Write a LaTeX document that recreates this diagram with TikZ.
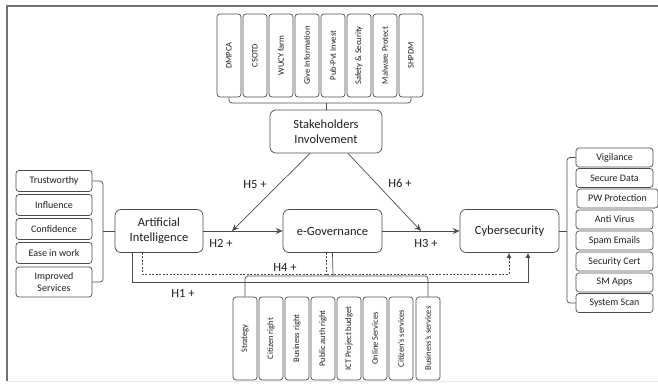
\documentclass[tikz,border=0pt]{standalone}
\usepackage{fontspec}
\setmainfont{Carlito}
\usetikzlibrary{arrows.meta}

\begin{document}
\begin{tikzpicture}[x=1pt, y=-1pt, line width=0.7pt, color=black!70, text=black!88,
	mainbox/.style={draw, rounded corners=6pt, minimum height=43pt, align=center, inner sep=0pt, font=\fontsize{12.5}{15}\selectfont},
	itembox/.style={draw, rounded corners=3pt, minimum height=19pt, minimum width=77pt, inner sep=0pt, align=center, font=\fontsize{10}{11}\selectfont},
	vbox/.style={draw, rounded corners=3pt, rotate=90, minimum width=83pt, minimum height=24pt, inner sep=0pt, font=\fontsize{8.5}{9}\selectfont},
	hyp/.style={font=\fontsize{12.5}{14}\selectfont},
	tip/.style={-{Stealth[length=7pt, width=6pt, inset=2.5pt]}},
	uptip/.style={-{Latex[length=5pt, width=5pt]}}]
	\useasboundingbox (0,0) rectangle (658,385);
	\draw[black!55, line width=1.6pt] (658,6) -- (7,6) -- (7,381);
	\draw[black!8] (7,381) -- (658,381);
	%%%%%%%%%%%%%
	\node[mainbox, minimum width=112pt] (sh) at (326,131.5) {Stakeholders\\Involvement};
	\node[mainbox, minimum width=88pt] (ai) at (159,231) {Artificial\\Intelligence};
	\node[mainbox, minimum width=99pt] (eg) at (332.5,231) {e-Governance};
	\node[mainbox, minimum width=99pt] (cyb) at (509.5,231) {Cybersecurity};
	%%%%%%%%%%%%%
	\node[vbox] (dmpca) at (229,55.5) {DMPCA};
	\node[vbox] (csotd) at (255,55.5) {CSOTD};
	\node[vbox] (wucy) at (281,55.5) {WUCY farm};
	\node[vbox] (give) at (307,55.5) {Give Information};
	\node[vbox] (pubpvt) at (333,55.5) {Pub-Pvt Invest};
	\node[vbox] (safety) at (359,55.5) {Safety \& Security};
	\node[vbox] (malware) at (385,55.5) {Malware Protect};
	\node[vbox] (shpdm) at (411,55.5) {SHPDM};
	%%%%%%%%%%%%%
	\node[vbox] (strat) at (245,338.5) {Strategy};
	\node[vbox] (citr) at (271,338.5) {Citizen right};
	\node[vbox] (busr) at (297,338.5) {Business right};
	\node[vbox] (pubr) at (323,338.5) {Public auth right};
	\node[vbox] (ict) at (349,338.5) {ICT Project budget};
	\node[vbox] (online) at (375,338.5) {Online Services};
	\node[vbox] (citsv) at (401,338.5) {Citizen's services};
	\node[vbox] (bizs) at (428,338.5) {Business's services};
	%%%%%%%%%%%%%
	\node[itembox, minimum height=21pt, minimum width=76pt] (trust) at (54,181) {Trustworthy};
	\node[itembox, minimum height=21pt, minimum width=76pt] (infl) at (54,205) {Influence};
	\node[itembox, minimum height=21pt, minimum width=76pt] (conf) at (54,229) {Confidence};
	\node[itembox, minimum height=21pt, minimum width=76pt] (ease) at (54,253) {Ease in work};
	\node[itembox, minimum height=30pt, minimum width=76pt, font=\fontsize{10}{12}\selectfont] (impr) at (54,282) {Improved\\Services};
	%%%%%%%%%%%%%
	\node[itembox] (vig) at (614.5,157.5) {Vigilance};
	\node[itembox] (sec) at (614.5,178) {Secure Data};
	\node[itembox, minimum width=81pt] (pw) at (617.5,198.5) {PW Protection};
	\node[itembox] (av) at (614.5,219.5) {Anti Virus};
	\node[itembox] (spam) at (614.5,240.5) {Spam Emails};
	\node[itembox] (cert) at (614.5,261.5) {Security Cert};
	\node[itembox] (sm) at (614.5,282.5) {SM Apps};
	\node[itembox] (scan) at (614.5,303) {System Scan};
	%%%%%%%%%%%%%
	\coordinate (lb) at (103,231);
	\coordinate (rb) at (567,231);
	\coordinate (tb) at (326,103);
	\coordinate (bb) at (333,276);
	\draw[rounded corners=3pt] (trust.east) -| (lb) |- (impr.east);
	\draw (lb) -- (ai.west);
	\draw[rounded corners=3pt] (vig.west) -| (rb) |- (scan.west);
	\draw (cyb.east) -- (rb);
	\draw[rounded corners=3pt] (dmpca.west) |- (tb) -| (shpdm.west);
	\draw (tb) -- (sh.north);
	\draw[rounded corners=3pt] (strat.east) |- (bb) -| (bizs.east);
	\draw (bb) -- (eg.south);
	%%%%%%%%%%%%%
	\coordinate (h5end) at (232,231);
	\coordinate (h6end) at (421,231);
	\draw[tip] (ai) -- (eg);
	\draw[tip] (eg) -- (cyb);
	\draw[tip] ([xshift=-16pt]sh.south) -- (h5end);
	\draw[tip] ([xshift=22pt]sh.south) -- (h6end);
	\coordinate (h1l) at (132,282);
	\coordinate (h1r) at (528,282);
	\draw[uptip] (ai.south -| h1l) -- (h1l) -- (h1r) -- (cyb.south -| h1r);
	\coordinate (h4l) at (142,274);
	\coordinate (h4m) at (326,274);
	\coordinate (h4r) at (509,274);
	\draw[uptip, dash pattern=on 2pt off 1.5pt] (ai.south -| h4l) -- (h4l) -- (h4r) -- (cyb.south -| h4r);
	\draw[dash pattern=on 2pt off 1.5pt] (eg.south -| h4m) -- (h4m);
	%%%%%%%%%%%%%
	\node[hyp] (h5) at (255,185) {H5 +};
	\node[hyp] (h6) at (400,183) {H6 +};
	\node[hyp] (h2) at (221,243) {H2 +};
	\node[hyp] (h3) at (426,243) {H3 +};
	\node[hyp] (h4) at (285,267) {H4 +};
	\node[hyp] (h1) at (183,293) {H1 +};
\end{tikzpicture}
\end{document}
